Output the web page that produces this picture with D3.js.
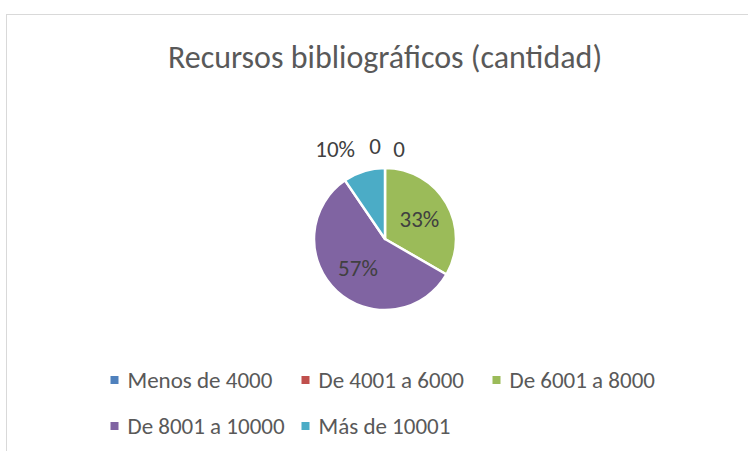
<!DOCTYPE html>
<html>
<head>
<meta charset="utf-8">
<script src="https://cdn.jsdelivr.net/npm/d3@7"></script>
<style>
  body { margin: 0; background: #fff; }
  svg { display: block; font-family: Carlito, Lato, "Open Sans", sans-serif; }
</style>
</head>
<body>
<svg id="chart" width="748" height="451"></svg>
<script>
// data
var categories = ['Menos de 4000', 'De 4001 a 6000', 'De 6001 a 8000', 'De 8001 a 10000', 'Más de 10001'];
var values = [0, 0, 7, 12, 2];
var labels = ['0', '0', '33%', '57%', '10%'];
var colors = ['#4F81BD', '#C0504D', '#9BBB59', '#8064A2', '#4BACC6'];
var title = 'Recursos bibliográficos (cantidad)';

var svg = d3.select('#chart');
var W = 748, H = 451;

// chart area border (only top/left visible in the crop)
svg.append('rect')
  .attr('x', 6.5).attr('y', 14.5)
  .attr('width', W).attr('height', H)
  .attr('fill', '#fff')
  .attr('stroke', '#D9D9D9');

svg.append('text')
  .attr('x', 385).attr('y', 68)
  .attr('text-anchor', 'middle')
  .attr('font-size', 32)
  .attr('fill', '#595959')
  .text(title);

//-------------------------PIE---------------------------------------
var cx = 385, cy = 239, r = 71;

var pie = d3.pie().sort(null).value(d => d.v);
var arcs = pie(categories.map((c, i) => ({c: c, v: values[i], lab: labels[i], col: colors[i]})));

var arc = d3.arc().innerRadius(0).outerRadius(r);
var inLabelArc = d3.arc().innerRadius(r * 0.56).outerRadius(r * 0.56);

var g = svg.append('g').attr('transform', 'translate(' + cx + ',' + cy + ')');

g.selectAll('path')
  .data(arcs.filter(d => d.data.v > 0))
  .enter()
  .append('path')
  .attr('d', arc)
  .attr('fill', d => d.data.col)
  .attr('stroke', '#fff')
  .attr('stroke-width', 2.5)
  .attr('stroke-linejoin', 'round');

// labels: big slices inside, tiny ones pushed above the pie (Excel best fit)
var outsideNudge = {0: -10, 1: 14, 4: -26}; // horizontal shifts, Excel staggers them
g.selectAll('text.lab')
  .data(arcs)
  .enter()
  .append('text')
  .attr('class', 'lab')
  .attr('text-anchor', 'middle')
  .attr('font-size', 23)
  .attr('fill', '#404040')
  .attr('x', (d, i) => {
    if (d.data.v / d3.sum(values) > 0.2) return inLabelArc.centroid(d)[0];
    var a = (d.startAngle + d.endAngle) / 2;
    return Math.sin(a) * (r + 10) + outsideNudge[i];
  })
  .attr('y', (d, i) => {
    if (d.data.v / d3.sum(values) > 0.2) return inLabelArc.centroid(d)[1] + 8;
    return -r - (i === 0 ? 14 : 11);
  })
  .text(d => d.data.lab);

//-------------------------LEGEND---------------------------------------
var colW = 191, perRow = 3, rowH = 46;
var legX = cx - colW * perRow / 2, legY = 380;

var leg = svg.selectAll('g.leg')
  .data(categories)
  .enter()
  .append('g')
  .attr('class', 'leg')
  .attr('transform', (d, i) => 'translate(' + (legX + (i % perRow) * colW) + ',' + (legY + Math.floor(i / perRow) * rowH) + ')');

leg.append('rect')
  .attr('x', 12).attr('y', -4)
  .attr('width', 8).attr('height', 8)
  .attr('fill', (d, i) => colors[i]);

leg.append('text')
  .attr('x', 29).attr('y', 8)
  .attr('font-size', 23)
  .attr('fill', '#595959')
  .text(d => d);
</script>
</body>
</html>
